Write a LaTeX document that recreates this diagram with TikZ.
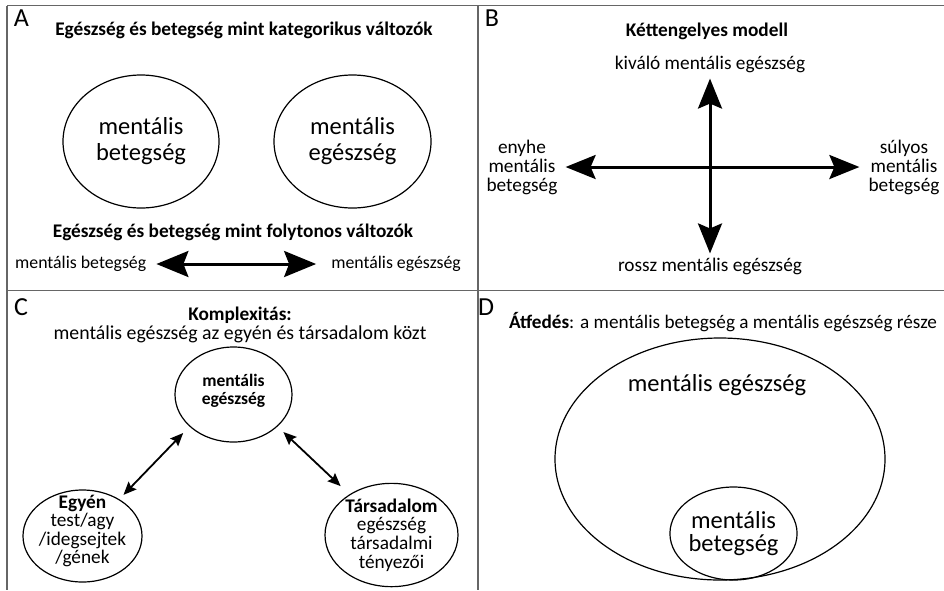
\documentclass[tikz,border=0pt]{standalone}
\usepackage{fontspec}
\setmainfont{Carlito}
\usetikzlibrary{shapes.geometric,arrows.meta}
\newcommand\fsz[2]{\fontsize{#1}{#2}\selectfont}
\begin{document}
\begin{tikzpicture}[x=1pt,y=-1pt,
  every node/.style={inner sep=0pt},
  frame/.style={draw=black!60, line width=1.6pt},
  ell/.style={draw, ellipse, line width=1.2pt, inner sep=0pt, align=center},
  letter/.style={font=\fsz{26}{26}},
  titlefont/.style={font=\bfseries\fsz{19.3}{20}},
  lab/.style={font=\fsz{19.3}{19}, align=center},
  bigarrow/.style={{Stealth[length=32pt,width=26pt,inset=5pt]}-{Stealth[length=32pt,width=26pt,inset=5pt]}, line width=3pt},
  crossarrow/.style={{Stealth[length=30pt,width=24pt,inset=5pt]}-{Stealth[length=30pt,width=24pt,inset=5pt]}, line width=3pt},
  thinarrow/.style={{Stealth[length=13pt,width=11pt,inset=2pt]}-{Stealth[length=13pt,width=11pt,inset=2pt]}, line width=1.8pt}
]
\useasboundingbox (0,0) rectangle (944,590);
% frame
\draw[frame] (7,5.5) -- (944,5.5);
\draw[frame] (7,5.5) -- (7,590);
\draw[frame] (7,290.5) -- (944,290.5);
\draw[frame] (478,5.5) -- (478,590);

% Panel A
\node[letter] (lA) at (21.5,18.5) {A};
\node[titlefont] (tA1) at (244,30) {Egészség és betegség mint kategorikus változók};
\node[ell, minimum width=156, minimum height=133, font=\fsz{24.5}{26}] (eMB) at (141,141.5) {mentális\\betegség};
\node[ell, minimum width=157, minimum height=133, font=\fsz{24.5}{26}] (eME) at (352.5,141.5) {mentális\\egészség};
\node[titlefont] (tA2) at (233,232) {Egészség és betegség mint folytonos változók};
\node[font=\fsz{17.8}{20}, anchor=west] (lMB) at (15,264) {mentális betegség};
\node[font=\fsz{17.8}{20}, anchor=east] (lME) at (461,264) {mentális egészség};
\draw[bigarrow, shorten <=10pt, shorten >=15pt] (lMB.east) -- (lME.west);

% Panel B
\node[letter] (lB) at (492,18.5) {B};
\node[titlefont] (tB) at (707,31) {Kéttengelyes modell};
\node[lab] (kiv) at (710,64) {kiváló mentális egészség};
\node[lab] (ros) at (710,266) {rossz mentális egészség};
\node[lab] (eny) at (522,167) {enyhe\\mentális\\betegség};
\node[lab] (sul) at (904,167) {súlyos\\mentális\\betegség};
\draw[crossarrow, shorten <=6pt, shorten >=4pt] (kiv.south) -- (ros.north);
\draw[crossarrow, shorten <=8pt, shorten >=9pt] (eny.east) -- (sul.west);

% Panel C
\node[letter] (lC) at (21,307) {C};
\node[titlefont] (tC1) at (240,315) {Komplexitás:};
\node[lab, font=\fsz{19.8}{20}] (tC2) at (240,334) {mentális egészség az egyén és társadalom közt};
\node[ell, minimum width=117, minimum height=95] (cME) at (233.5,394.5) {};
\node[font=\bfseries\fsz{17.5}{18}, align=center] (cMEt) at (233.5,391) {mentális\\egészség};
\node[ell, minimum width=119, minimum height=92] (cEg) at (82.5,536) {};
\node[font=\fsz{19.3}{18.5}, align=center] (cEgt) at (82.5,531) {\textbf{Egyén}\\test/agy\\/idegsejtek\\/gének};
\node[ell, minimum width=133, minimum height=100, font=\fsz{19.3}{18.8}] (cTa) at (391.5,535) {\textbf{Társadalom}\\egészség\\társadalmi\\tényezői};
\draw[thinarrow, shorten <=6pt, shorten >=9pt] (cEg.45) -- (cME.216.6);
\draw[thinarrow, shorten <=8pt, shorten >=12pt] (cME.324.9) -- (cTa.136.5);

% Panel D
\node[letter] (lD) at (486,307) {D};
\node[font=\fsz{19.2}{20}] (tD) at (723,322) {\textbf{Átfedés}: a mentális betegség a mentális egészség része};
\node[ell, minimum width=330, minimum height=242] (dME) at (720,459) {};
\node[font=\fsz{24.5}{26}] (dMEt) at (717,385) {mentális egészség};
\node[ell, minimum width=117, minimum height=93, font=\fsz{24.5}{23}] (dMB) at (733.5,533.5) {mentális\\betegség};
\end{tikzpicture}
\end{document}
